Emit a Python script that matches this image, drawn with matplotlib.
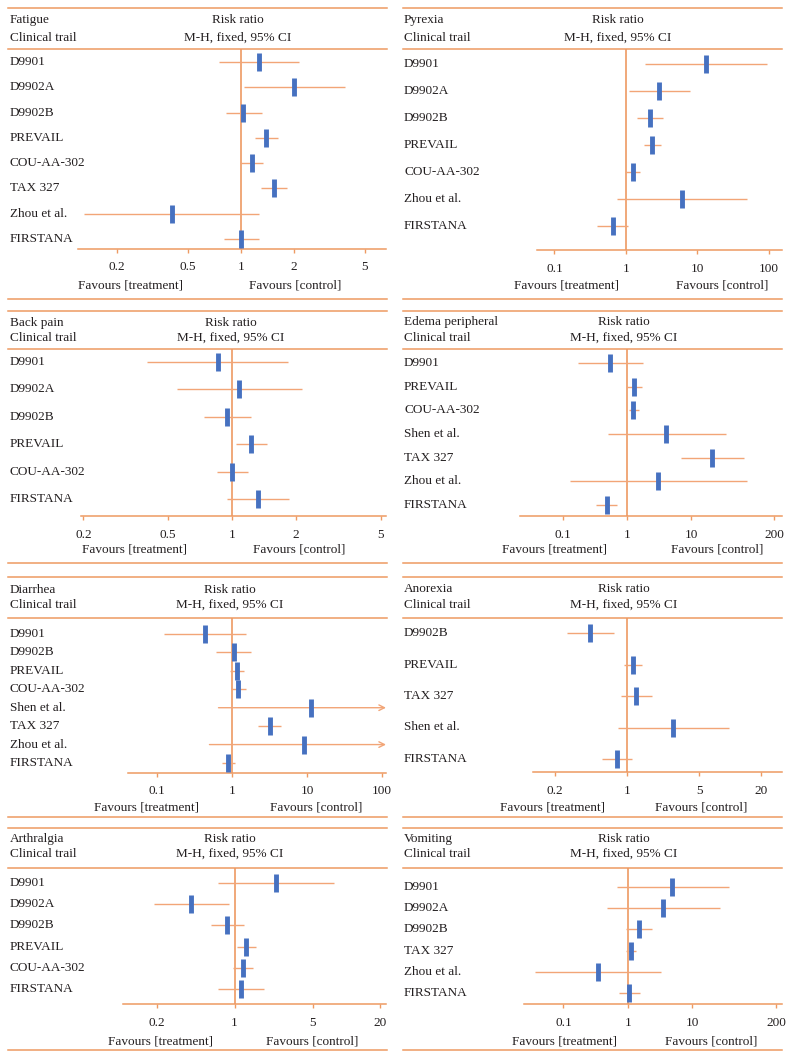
import matplotlib
matplotlib.use('Agg')
import matplotlib.pyplot as plt
from matplotlib.lines import Line2D
from matplotlib.ticker import FixedLocator, FixedFormatter, NullLocator

plt.rcParams['font.family'] = ['Liberation Serif', 'DejaVu Serif']

# ---- data (risk ratio, lower, upper 95% CI) ----
fatigue_trials = ['D9901', 'D9902A', 'D9902B', 'PREVAIL', 'COU-AA-302', 'TAX 327', 'Zhou et al.', 'FIRSTANA']
fatigue_rr = [1.26, 1.99, 1.03, 1.39, 1.15, 1.53, 0.41, 1.0]
fatigue_lo = [0.75, 1.04, 0.82, 1.2, 0.99, 1.29, 0.13, 0.80]
fatigue_hi = [2.12, 3.85, 1.31, 1.61, 1.34, 1.83, 1.26, 1.26]

pyrexia_trials = ['D9901', 'D9902A', 'D9902B', 'PREVAIL', 'COU-AA-302', 'Zhou et al.', 'FIRSTANA']
pyrexia_rr = [13.2, 2.94, 2.15, 2.34, 1.24, 6.1, 0.65]
pyrexia_lo = [1.87, 1.11, 1.43, 1.81, 0.98, 0.76, 0.39]
pyrexia_hi = [92.7, 7.77, 3.27, 3.07, 1.56, 49.0, 1.07]

backpain_trials = ['D9901', 'D9902A', 'D9902B', 'PREVAIL', 'COU-AA-302', 'FIRSTANA']
backpain_rr = [0.86, 1.08, 0.95, 1.23, 1.0, 1.32]
backpain_lo = [0.40, 0.55, 0.74, 1.04, 0.85, 0.95]
backpain_hi = [1.83, 2.13, 1.22, 1.45, 1.19, 1.85]

edema_trials = ['D9901', 'PREVAIL', 'COU-AA-302', 'Shen et al.', 'TAX 327', 'Zhou et al.', 'FIRSTANA']
edema_rr = [0.54, 1.27, 1.24, 4.08, 21.2, 3.02, 0.48]
edema_lo = [0.17, 0.98, 1.05, 0.50, 6.85, 0.126, 0.33]
edema_hi = [1.8, 1.72, 1.52, 34.7, 67.0, 74.0, 0.70]

diarrhea_trials = ['D9901', 'D9902B', 'PREVAIL', 'COU-AA-302', 'Shen et al.', 'TAX 327', 'Zhou et al.', 'FIRSTANA']
diarrhea_rr = [0.44, 1.06, 1.15, 1.2, 11.4, 3.18, 9.1, 0.89]
diarrhea_lo = [0.124, 0.62, 0.94, 0.97, 0.66, 2.22, 0.50, 0.74]
diarrhea_hi = [1.55, 1.81, 1.45, 1.55, 200.0, 4.55, 200.0, 1.1]   # 200 = off the scale

anorexia_trials = ['D9902B', 'PREVAIL', 'TAX 327', 'Shen et al.', 'FIRSTANA']
anorexia_rr = [0.44, 1.14, 1.23, 2.81, 0.80]
anorexia_lo = [0.26, 0.93, 0.87, 0.82, 0.57]
anorexia_hi = [0.74, 1.40, 1.75, 9.7, 1.12]

arthralgia_trials = ['D9901', 'D9902A', 'D9902B', 'PREVAIL', 'COU-AA-302', 'FIRSTANA']
arthralgia_rr = [2.35, 0.41, 0.86, 1.26, 1.18, 1.14]
arthralgia_lo = [0.71, 0.19, 0.61, 1.04, 0.97, 0.71]
arthralgia_hi = [7.8, 0.89, 1.21, 1.54, 1.45, 1.82]

vomiting_trials = ['D9901', 'D9902A', 'D9902B', 'TAX 327', 'Zhou et al.', 'FIRSTANA']
vomiting_rr = [4.89, 3.54, 1.48, 1.11, 0.34, 1.04]
vomiting_lo = [0.67, 0.47, 0.95, 0.94, 0.036, 0.72]
vomiting_hi = [36.7, 27.2, 2.39, 1.32, 3.22, 1.54]

# ---- layout, in pixels of the 793x1058 image ----
W, H = 793, 1058
orange = '#EE9A62'
ci_orange = '#F2A577'
blue = '#4671C0'
fs = 9.5

panels = [
    dict(name='Fatigue', trials=fatigue_trials, rr=fatigue_rr, lo=fatigue_lo, hi=fatigue_hi,
         col=0, top=8, t1=20, t2=38, hdr=49, r0=62, r1=239, axl=249, fav=285, bot=299,
         ax0=78, ax1=386, xlim=(0.12, 6.6), ticks=[0.2, 0.5, 1, 2, 5], rc=238, f1=130, f2=295),
    dict(name='Pyrexia', trials=pyrexia_trials, rr=pyrexia_rr, lo=pyrexia_lo, hi=pyrexia_hi,
         col=1, top=8, t1=20, t2=38, hdr=49, r0=64, r1=226, axl=250, fav=285, bot=299,
         ax0=537, ax1=782, xlim=(0.057, 152), ticks=[0.1, 1, 10, 100], rc=618, f1=567, f2=722),
    dict(name='Back pain', trials=backpain_trials, rr=backpain_rr, lo=backpain_lo, hi=backpain_hi,
         col=0, top=311, t1=323, t2=338, hdr=349, r0=362, r1=499, axl=516, fav=549, bot=563,
         ax0=81, ax1=386, xlim=(0.195, 5.28), ticks=[0.2, 0.5, 1, 2, 5], rc=231, f1=134, f2=299),
    dict(name='Edema peripheral', trials=edema_trials, rr=edema_rr, lo=edema_lo, hi=edema_hi,
         col=1, top=311, t1=322, t2=338, hdr=349, r0=363, r1=505, axl=516, fav=549, bot=563,
         ax0=520, ax1=782, xlim=(0.021, 265), ticks=[0.1, 1, 10, 200], rc=624, f1=555, f2=717),
    dict(name='Diarrhea', trials=diarrhea_trials, rr=diarrhea_rr, lo=diarrhea_lo, hi=diarrhea_hi,
         col=0, top=577, t1=590, t2=605, hdr=618, r0=634, r1=763, axl=773, fav=807, bot=817,
         ax0=128, ax1=386, xlim=(0.041, 113), ticks=[0.1, 1, 10, 100], rc=230, f1=146, f2=316),
    dict(name='Anorexia', trials=anorexia_trials, rr=anorexia_rr, lo=anorexia_lo, hi=anorexia_hi,
         col=1, top=577, t1=589, t2=605, hdr=618, r0=633, r1=759, axl=772, fav=807, bot=817,
         ax0=533, ax1=782, xlim=(0.122, 32), ticks=[0.2, 1, 5, 20], rc=624, f1=552, f2=701),
    dict(name='Arthralgia', trials=arthralgia_trials, rr=arthralgia_rr, lo=arthralgia_lo, hi=arthralgia_hi,
         col=0, top=828, t1=839, t2=854, hdr=868, r0=883, r1=989, axl=1004, fav=1042, bot=1050,
         ax0=123, ax1=386, xlim=(0.10, 22.7), ticks=[0.2, 1, 5, 20], rc=230, f1=161, f2=312),
    dict(name='Vomiting', trials=vomiting_trials, rr=vomiting_rr, lo=vomiting_lo, hi=vomiting_hi,
         col=1, top=828, t1=839, t2=854, hdr=868, r0=887, r1=993, axl=1004, fav=1042, bot=1050,
         ax0=524, ax1=782, xlim=(0.0245, 245), ticks=[0.1, 1, 10, 200], rc=624, f1=564, f2=711),
]

fig = plt.figure(figsize=(W / 100, H / 100), dpi=100)


def fx(x):
    return x / W


def fy(y):
    return 1 - y / H


def hline(x0, x1, y):
    fig.add_artist(Line2D([fx(x0), fx(x1)], [fy(y), fy(y)], color=orange, lw=1.1,
                          transform=fig.transFigure))


def ftext(x, y, s, ha='left'):
    fig.text(fx(x), fy(y), s, ha=ha, va='center', fontsize=fs, color='#231F20')


for p in panels:
    left = 8 if p['col'] == 0 else 403
    right = 387 if p['col'] == 0 else 782
    tx = 10 if p['col'] == 0 else 404

    hline(left, right, p['top'])
    hline(left, right, p['hdr'])
    hline(left, right, p['bot'])
    ftext(tx, p['t1'], p['name'])
    ftext(tx, p['t2'], 'Clinical trail')
    ftext(p['rc'], p['t1'], 'Risk ratio', ha='center')
    ftext(p['rc'], p['t2'], 'M-H, fixed, 95% CI', ha='center')
    ftext(p['f1'], p['fav'], 'Favours [treatment]', ha='center')
    ftext(p['f2'], p['fav'], 'Favours [control]', ha='center')

    n = len(p['trials'])
    step = (p['r1'] - p['r0']) / (n - 1)
    for i, t in enumerate(p['trials']):
        ftext(tx, p['r0'] + i * step, t)

    ax = fig.add_axes([fx(p['ax0']), fy(p['axl']), fx(p['ax1']) - fx(p['ax0']),
                       (p['axl'] - p['hdr']) / H])
    ax.set_xscale('log')
    ax.set_xlim(*p['xlim'])
    ax.set_ylim((n - 1) + (p['axl'] - p['r1']) / step, -(p['r0'] - p['hdr']) / step)
    ax.patch.set_alpha(0)
    for s in ['left', 'right', 'top']:
        ax.spines[s].set_visible(False)
    ax.spines['bottom'].set_color(orange)
    ax.spines['bottom'].set_linewidth(1.1)
    ax.set_yticks([])
    ax.xaxis.set_major_locator(FixedLocator(p['ticks']))
    ax.xaxis.set_major_formatter(FixedFormatter([f'{t:g}' for t in p['ticks']]))
    ax.xaxis.set_minor_locator(NullLocator())
    ax.tick_params(axis='x', direction='out', length=3, width=1, color=orange,
                   labelsize=fs, labelcolor='#231F20', pad=6)

    ax.axvline(1, color=orange, lw=1.2, zorder=1)
    xmax = p['xlim'][1]
    for i in range(n):
        if p['hi'][i] > xmax:
            ax.annotate('', xy=(xmax, i), xytext=(p['lo'][i], i),
                        arrowprops=dict(arrowstyle='->', color=ci_orange, lw=1,
                                        shrinkA=0, shrinkB=0, mutation_scale=10))
        else:
            ax.hlines(i, p['lo'][i], p['hi'][i], color=ci_orange, lw=1, zorder=2)
    ax.plot(p['rr'], range(n), ls='none', marker='|', ms=13, mew=3.5, color=blue, zorder=3)

fig.savefig('out.png', dpi=100)
